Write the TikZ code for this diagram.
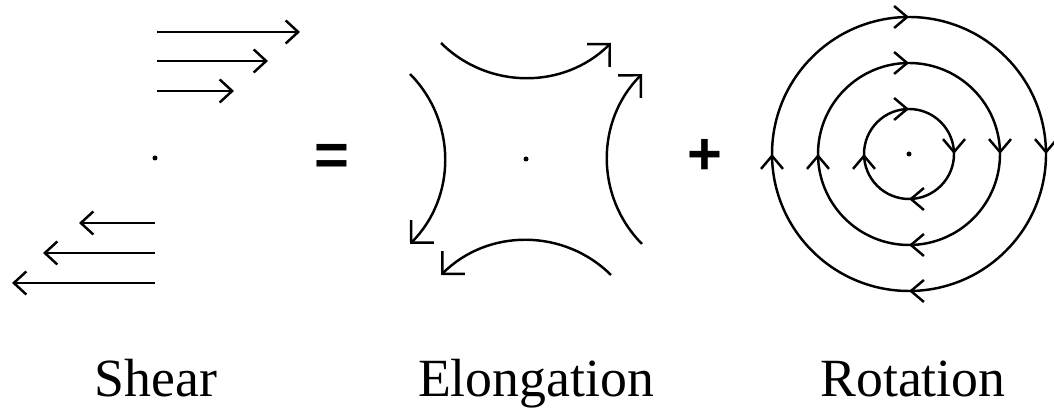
\documentclass[tikz,border=0pt]{standalone}
\usepackage{fontspec}
\usepackage{tikz}
\usetikzlibrary{arrows.meta,decorations.markings,calc}
\newfontfamily\lblfont{Liberation Serif}
\newfontfamily\oprfont{Liberation Sans}
\tikzset{
  ln/.style={line width=1.4pt},
  shr/.style={ln,-{Straight Barb[length=2.5mm,width=4.6mm]}},
  elf/.style={ln,-{Straight Barb[length=3.2mm,width=6.4mm]}},
  elb/.style={ln,{Straight Barb[length=3.2mm,width=6.4mm]}-},
  rot/.style={ln,postaction={decorate},decoration={markings,
    mark=at position 0.125 with {\arrow{Straight Barb[length=2.6mm,width=4.4mm,line width=1.4pt]}},
    mark=at position 0.375 with {\arrow{Straight Barb[length=2.6mm,width=4.4mm,line width=1.4pt]}},
    mark=at position 0.625 with {\arrow{Straight Barb[length=2.6mm,width=4.4mm,line width=1.4pt]}},
    mark=at position 0.875 with {\arrow{Straight Barb[length=2.6mm,width=4.4mm,line width=1.4pt]}}}},
  lbl/.style={anchor=base,inner sep=0pt,font=\lblfont\fontsize{30.6}{36}\selectfont},
  opr/.style={inner sep=0pt,font=\oprfont\bfseries\fontsize{34}{40}\selectfont}
}

\begin{document}
\begin{tikzpicture}
\useasboundingbox (0,0) rectangle (21.08,8.24);
\coordinate (sh) at (3.1,5.08); \coordinate (el) at (10.52,5.06); \coordinate (ro) at (18.18,5.16);
% shear
\fill (sh) circle (0.05);
\draw[shr] (3.14,7.6) -- (6.0,7.6); \draw[shr] (3.14,7.02) -- (5.36,7.02); \draw[shr] (3.14,6.42) -- (4.68,6.42);
\draw[shr] (3.1,3.78) -- (1.58,3.78); \draw[shr] (3.1,3.18) -- (0.86,3.18); \draw[shr] (3.1,2.58) -- (0.24,2.58);
% elongation
\fill (el) circle (0.05);
\foreach \a/\s in {90/elf,-90/elf,0/elb,180/elb}
  \draw[\s] ($(el)+(\a:4.034)+(\a+135.24:2.414)$) arc[start angle=\a+135.24,end angle=\a+224.76,radius=2.414];
% rotation
\fill (ro) circle (0.05);
\foreach \r in {0.9,1.82,2.74}
  \draw[rot] ($(ro)+(45:\r)$) arc[start angle=45,end angle=-315,radius=\r];
\node[opr] (eq) at (6.64,5.04) {=}; \node[opr] (pl) at (14.1,5.1) {+};
\node[lbl] (shl) at (3.12,0.3) {Shear}; \node[lbl] (ell) at (10.72,0.3) {Elongation}; \node[lbl] (rol) at (18.26,0.3) {Rotation};
\end{tikzpicture}
\end{document}
